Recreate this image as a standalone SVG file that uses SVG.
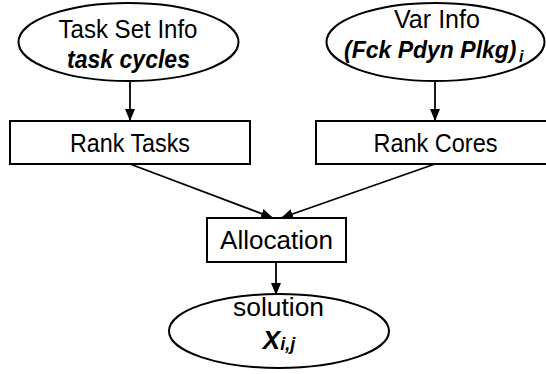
<svg xmlns="http://www.w3.org/2000/svg" width="546" height="374" viewBox="0 0 546 374">
<style>
.shape{fill:#fff;stroke:#000;stroke-width:2}
.t{font-family:"Liberation Sans",Arial,sans-serif;font-size:26px;fill:#000;text-anchor:middle}
.bi{font-weight:bold;font-style:italic}
.edge{stroke:#000;stroke-width:1.8;fill:none;marker-end:url(#ah)}
</style>
<defs>
<marker id="ah" viewBox="0 0 12 10" refX="12" refY="5" markerWidth="12" markerHeight="10" markerUnits="userSpaceOnUse" orient="auto">
<path d="M0,0 L12,5 L0,10 z" fill="#000"/>
</marker>
</defs>
<rect width="546" height="374" fill="#fff"/>
<g id="connectors">
<line class="edge" x1="130" y1="82" x2="130" y2="121"/>
<line class="edge" x1="435" y1="82" x2="435" y2="121"/>
<line class="edge" x1="130" y1="164" x2="273" y2="218"/>
<line class="edge" x1="435" y1="164" x2="281" y2="218"/>
<line class="edge" x1="276" y1="262" x2="276" y2="295"/>
</g>
<g id="task-set-info">
<ellipse class="shape" cx="128.5" cy="42" rx="110" ry="39"/>
<text class="t" x="128" y="38" textLength="139" lengthAdjust="spacingAndGlyphs">Task Set Info</text>
<text class="t bi" x="128.5" y="68" textLength="123" lengthAdjust="spacingAndGlyphs">task cycles</text>
</g>
<g id="var-info">
<ellipse class="shape" cx="435.5" cy="42" rx="109" ry="39"/>
<text class="t" x="437" y="28" textLength="86" lengthAdjust="spacingAndGlyphs">Var Info</text>
<text class="t bi" x="344" y="58" style="text-anchor:start;font-size:23px">(Fck Pdyn Plkg)</text>
<text class="t bi" x="519" y="62" style="text-anchor:start;font-size:16px">i</text>
</g>
<g id="rank-tasks">
<rect class="shape" x="10" y="121" width="240" height="43"/>
<text class="t" x="130" y="152" textLength="120" lengthAdjust="spacingAndGlyphs">Rank Tasks</text>
</g>
<g id="rank-cores">
<rect class="shape" x="316" y="121" width="240" height="43"/>
<text class="t" x="435.5" y="152" textLength="124" lengthAdjust="spacingAndGlyphs">Rank Cores</text>
</g>
<g id="allocation">
<rect class="shape" x="207" y="218" width="139" height="44"/>
<text class="t" x="276.5" y="249" textLength="113" lengthAdjust="spacingAndGlyphs">Allocation</text>
</g>
<g id="solution">
<ellipse class="shape" cx="279" cy="331" rx="110" ry="37"/>
<text class="t" x="278.5" y="316" textLength="91" lengthAdjust="spacingAndGlyphs">solution</text>
<text class="t bi" x="279" y="349">X<tspan style="font-size:18px" dy="1">i,j</tspan></text>
</g>
</svg>
